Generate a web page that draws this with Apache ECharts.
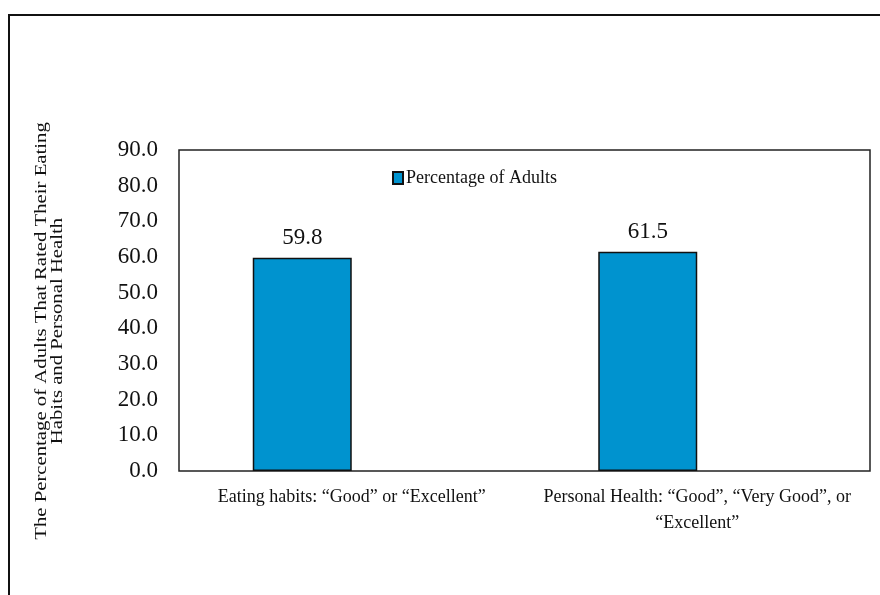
<!DOCTYPE html>
<html>
<head>
<meta charset="utf-8">
<script src="https://cdn.jsdelivr.net/npm/echarts@6/dist/echarts.min.js"></script>
<style>
  html, body { margin: 0; padding: 0; background: #fff; }
  #chart { width: 880px; height: 595px; }
</style>
</head>
<body>
<div id="chart"></div>
<script>
var categories = ["Eating habits: \u201cGood\u201d or \u201cExcellent\u201d",
    "Personal Health: \u201cGood\u201d, \u201cVery Good\u201d, or\n\u201cExcellent\u201d"]
var adultsPct = [59.8, 61.5]
var seriesName = "Percentage of Adults"
var yTitle = "The Percentage of Adults That Rated Their Eating\nHabits and Personal Health"

var serif = "'Liberation Serif', 'Times New Roman', serif"

var chart = echarts.init(document.getElementById("chart"))
chart.setOption({
    backgroundColor: "#fff",
    animation: false,
    textStyle: { fontFamily: serif, color: "#111" },
    grid: {
        left: 179, right: 10, top: 150, bottom: 124,
        show: true, borderColor: "#222", borderWidth: 1.5,
        containLabel: false
    },
    legend: {
        data: [seriesName],
        left: 392, top: 169,
        icon: "rect", itemWidth: 10, itemHeight: 12, padding: 0,
        textStyle: { fontFamily: serif, fontSize: 18, color: "#111", padding: [0, 0, 0, -2] }
    },
    xAxis: {
        type: "category",
        data: categories,
        axisLine: { show: false },
        axisTick: { show: false },
        axisLabel: {
            margin: 13, fontFamily: serif, fontSize: 18, color: "#111",
            lineHeight: 26, align: "center", interval: 0
        }
    },
    yAxis: {
        type: "value",
        min: 0, max: 90, interval: 10,
        axisLine: { show: false },
        axisTick: { show: false },
        splitLine: { show: false },
        axisLabel: {
            margin: 21, fontFamily: serif, fontSize: 23, color: "#111",
            formatter: v => v.toFixed(1)
        }
    },
    series: [{
        name: seriesName,
        type: "bar",
        data: adultsPct,
        barWidth: 99,
        barGap: "0%",
        itemStyle: { color: "#0093CF", borderColor: "#111", borderWidth: 1.5 },
        label: {
            show: true, position: "top", distance: 8,
            fontFamily: serif, fontSize: 23, color: "#111",
            formatter: p => p.value.toFixed(1)
        }
    }, {
        name: "spacer",
        type: "bar",
        data: ["-", "-"],
        barWidth: 99
    }],
    graphic: [{
        type: "rect",
        shape: { x: 9, y: 15, width: 900, height: 600 },
        style: { fill: "none", stroke: "#111", lineWidth: 2 },
        silent: true
    }, {
        type: "text",
        x: 50, y: 331,
        rotation: Math.PI / 2,
        scaleX: 1.22,
        style: {
            text: yTitle,
            font: "17px " + serif,
            fill: "#111",
            align: "center",
            verticalAlign: "middle",
            lineHeight: 16
        }
    }]
})
</script>
</body>
</html>
